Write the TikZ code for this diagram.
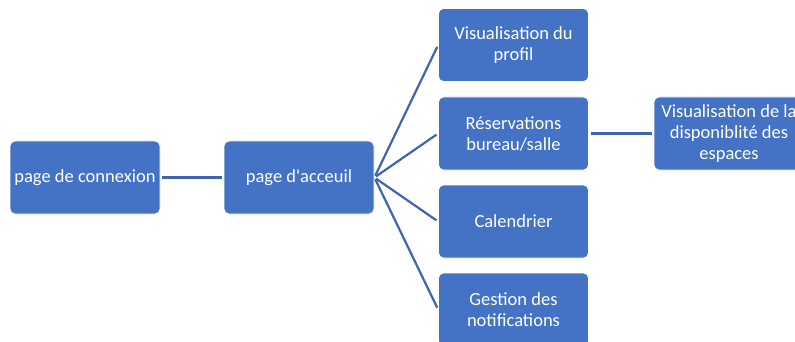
\documentclass[tikz,border=0pt]{standalone}
\usepackage{fontspec}
\setmainfont{Carlito}
\definecolor{boxblue}{RGB}{68,114,196}
\definecolor{lineblue}{RGB}{62,100,178}
\begin{document}
\begin{tikzpicture}[x=1pt,y=-1pt,
  box/.style={draw=white, line width=0.8pt, fill=boxblue, rounded corners=5pt,
    minimum width=150pt, minimum height=73pt, inner sep=0pt, align=center,
    text=white, font=\fontsize{18.5}{21}\selectfont},
  link/.style={draw=lineblue, line width=2.2pt, shorten <=2pt, shorten >=2pt}]
\useasboundingbox[fill=white] (0,0) rectangle (795,342);
\node[box] (con) at (85,177.5) {page de connexion};
\node[box] (acc) at (299,177.5) {page d\textquotesingle acceuil};
\node[box] (vis) at (513.5,45) {Visualisation du\\profil};
\node[box] (res) at (513.5,133.5) {Réservations\\bureau/salle};
\node[box] (cal) at (513.5,221.5) {Calendrier};
\node[box] (ges) at (513.5,309.5) {Gestion des\\notifications};
\node[box] (dis) at (729,133.5) {Visualisation de la\\disponiblité des\\espaces};
\draw[link] (con.east) -- (acc.west);
\draw[link] (acc.east) -- (vis.west);
\draw[link] (acc.east) -- (res.west);
\draw[link] (acc.east) -- (cal.west);
\draw[link] (acc.east) -- (ges.west);
\draw[link] (res.east) -- (dis.west);
\end{tikzpicture}
\end{document}
